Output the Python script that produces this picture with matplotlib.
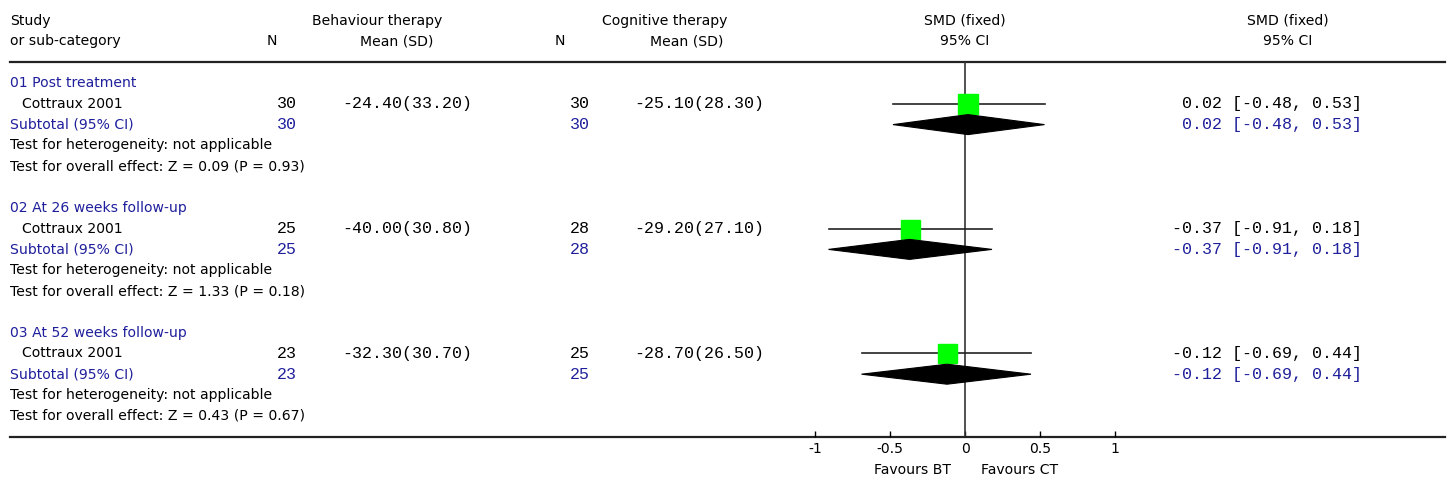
import matplotlib
matplotlib.use('Agg')
import matplotlib.pyplot as plt
from matplotlib.patches import Polygon

# data
groups = ['01 Post treatment', '02 At 26 weeks follow-up', '03 At 52 weeks follow-up']
study = ['Cottraux 2001', 'Cottraux 2001', 'Cottraux 2001']
n_bt = [30, 25, 23]
mean_bt = ['-24.40', '-40.00', '-32.30']
sd_bt = ['33.20', '30.80', '30.70']
n_ct = [30, 28, 25]
mean_ct = ['-25.10', '-29.20', '-28.70']
sd_ct = ['28.30', '27.10', '26.50']
smd = [0.02, -0.37, -0.12]
ci_lo = [-0.48, -0.91, -0.69]
ci_hi = [0.53, 0.18, 0.44]
z_vals = ['0.09', '1.33', '0.43']
p_vals = ['0.93', '0.18', '0.67']
sq_px = [20, 19, 19]
xticks = [-1, -0.5, 0, 0.5, 1]
xticklabels = ['-1', '-0.5', '0', '0.5', '1']

W, H = 1453, 486
rh = 20.8      # row height in pixels
y0 = 83        # pixel of first row
blue = '#1f1f9c'
sans = 'DejaVu Sans'
mono = 'Liberation Mono'
fs = 10.1
fm = 12

fig = plt.figure(figsize=(W / 100, H / 100), dpi=100)

# table axes: x in pixels, y in rows
tab = fig.add_axes([0, 0, 1, 1])
tab.set_xlim(0, W)
tab.set_ylim((H - y0) / rh, -y0 / rh)
tab.axis('off')

# forest axes: x in SMD, y in rows
zero_px = 965
scale = 150
xl = (-1.3, 1.3)
top_px = y0 - rh
bot_px = y0 + 17 * rh
fp = fig.add_axes([(zero_px + xl[0] * scale) / W, 1 - bot_px / H,
                   (xl[1] - xl[0]) * scale / W, (bot_px - top_px) / H])
fp.set_xlim(*xl)
fp.set_ylim(17, -1)
fp.patch.set_alpha(0)
for s in fp.spines.values():
    s.set_visible(False)
fp.set_yticks([])
fp.set_xticks(xticks)
fp.set_xticklabels(xticklabels, fontsize=fs, family=sans)
fp.tick_params(axis='x', direction='in', length=4, width=1, pad=4)

# headers
def t(x, row, s, ha='left', color='black', family=sans, size=fs):
    tab.text(x, row, s, ha=ha, va='center', color=color, family=family, fontsize=size)

t(10, -3, 'Study')
t(10, -2, 'or sub-category')
t(272, -2, 'N', ha='center')
t(377, -3, 'Behaviour therapy', ha='center')
t(397, -2, 'Mean (SD)', ha='center')
t(560, -2, 'N', ha='center')
t(665, -3, 'Cognitive therapy', ha='center')
t(687, -2, 'Mean (SD)', ha='center')
t(965, -3, 'SMD (fixed)', ha='center')
t(965, -2, '95% CI', ha='center')
t(1288, -3, 'SMD (fixed)', ha='center')
t(1288, -2, '95% CI', ha='center')

tab.plot([10, 1445], [-1, -1], color='#222222', lw=1.6)
tab.plot([10, 1445], [17, 17], color='#222222', lw=1.6)

fp.axvline(0, color='#333333', lw=1.2)

for i, g in enumerate(groups):
    r = i * 6
    t(10, r, g, color=blue)
    t(22, r + 1, study[i])
    t(297, r + 1, str(n_bt[i]), ha='right', family=mono, size=fm)
    t(472, r + 1, '%s(%s)' % (mean_bt[i], sd_bt[i]), ha='right', family=mono, size=fm)
    t(590, r + 1, str(n_ct[i]), ha='right', family=mono, size=fm)
    t(764, r + 1, '%s(%s)' % (mean_ct[i], sd_ct[i]), ha='right', family=mono, size=fm)
    ci_txt = '%.2f [%.2f, %.2f]' % (smd[i], ci_lo[i], ci_hi[i])
    t(1362, r + 1, ci_txt, ha='right', family=mono, size=fm)
    t(10, r + 2, 'Subtotal (95% CI)', color=blue)
    t(297, r + 2, str(n_bt[i]), ha='right', color=blue, family=mono, size=fm)
    t(590, r + 2, str(n_ct[i]), ha='right', color=blue, family=mono, size=fm)
    t(1362, r + 2, ci_txt, ha='right', color=blue, family=mono, size=fm)
    t(10, r + 3, 'Test for heterogeneity: not applicable')
    t(10, r + 4, 'Test for overall effect: Z = %s (P = %s)' % (z_vals[i], p_vals[i]))

    # study estimate
    fp.plot([ci_lo[i], ci_hi[i]], [r + 1, r + 1], color='#222222', lw=1.2, zorder=2)
    fp.plot(smd[i], r + 1, marker='s', ms=sq_px[i] * 0.72, color='#00ff00',
            mec='#00ff00', zorder=3)
    # pooled diamond
    hh = 10 / rh
    fp.add_patch(Polygon([(ci_lo[i], r + 2), (smd[i], r + 2 - hh),
                          (ci_hi[i], r + 2), (smd[i], r + 2 + hh)],
                         closed=True, facecolor='black', edgecolor='black',
                         lw=0.8, zorder=3))

t(912, 18.6, 'Favours BT', ha='center')
t(1020, 18.6, 'Favours CT', ha='center')

fig.savefig('out.png', dpi=100)
